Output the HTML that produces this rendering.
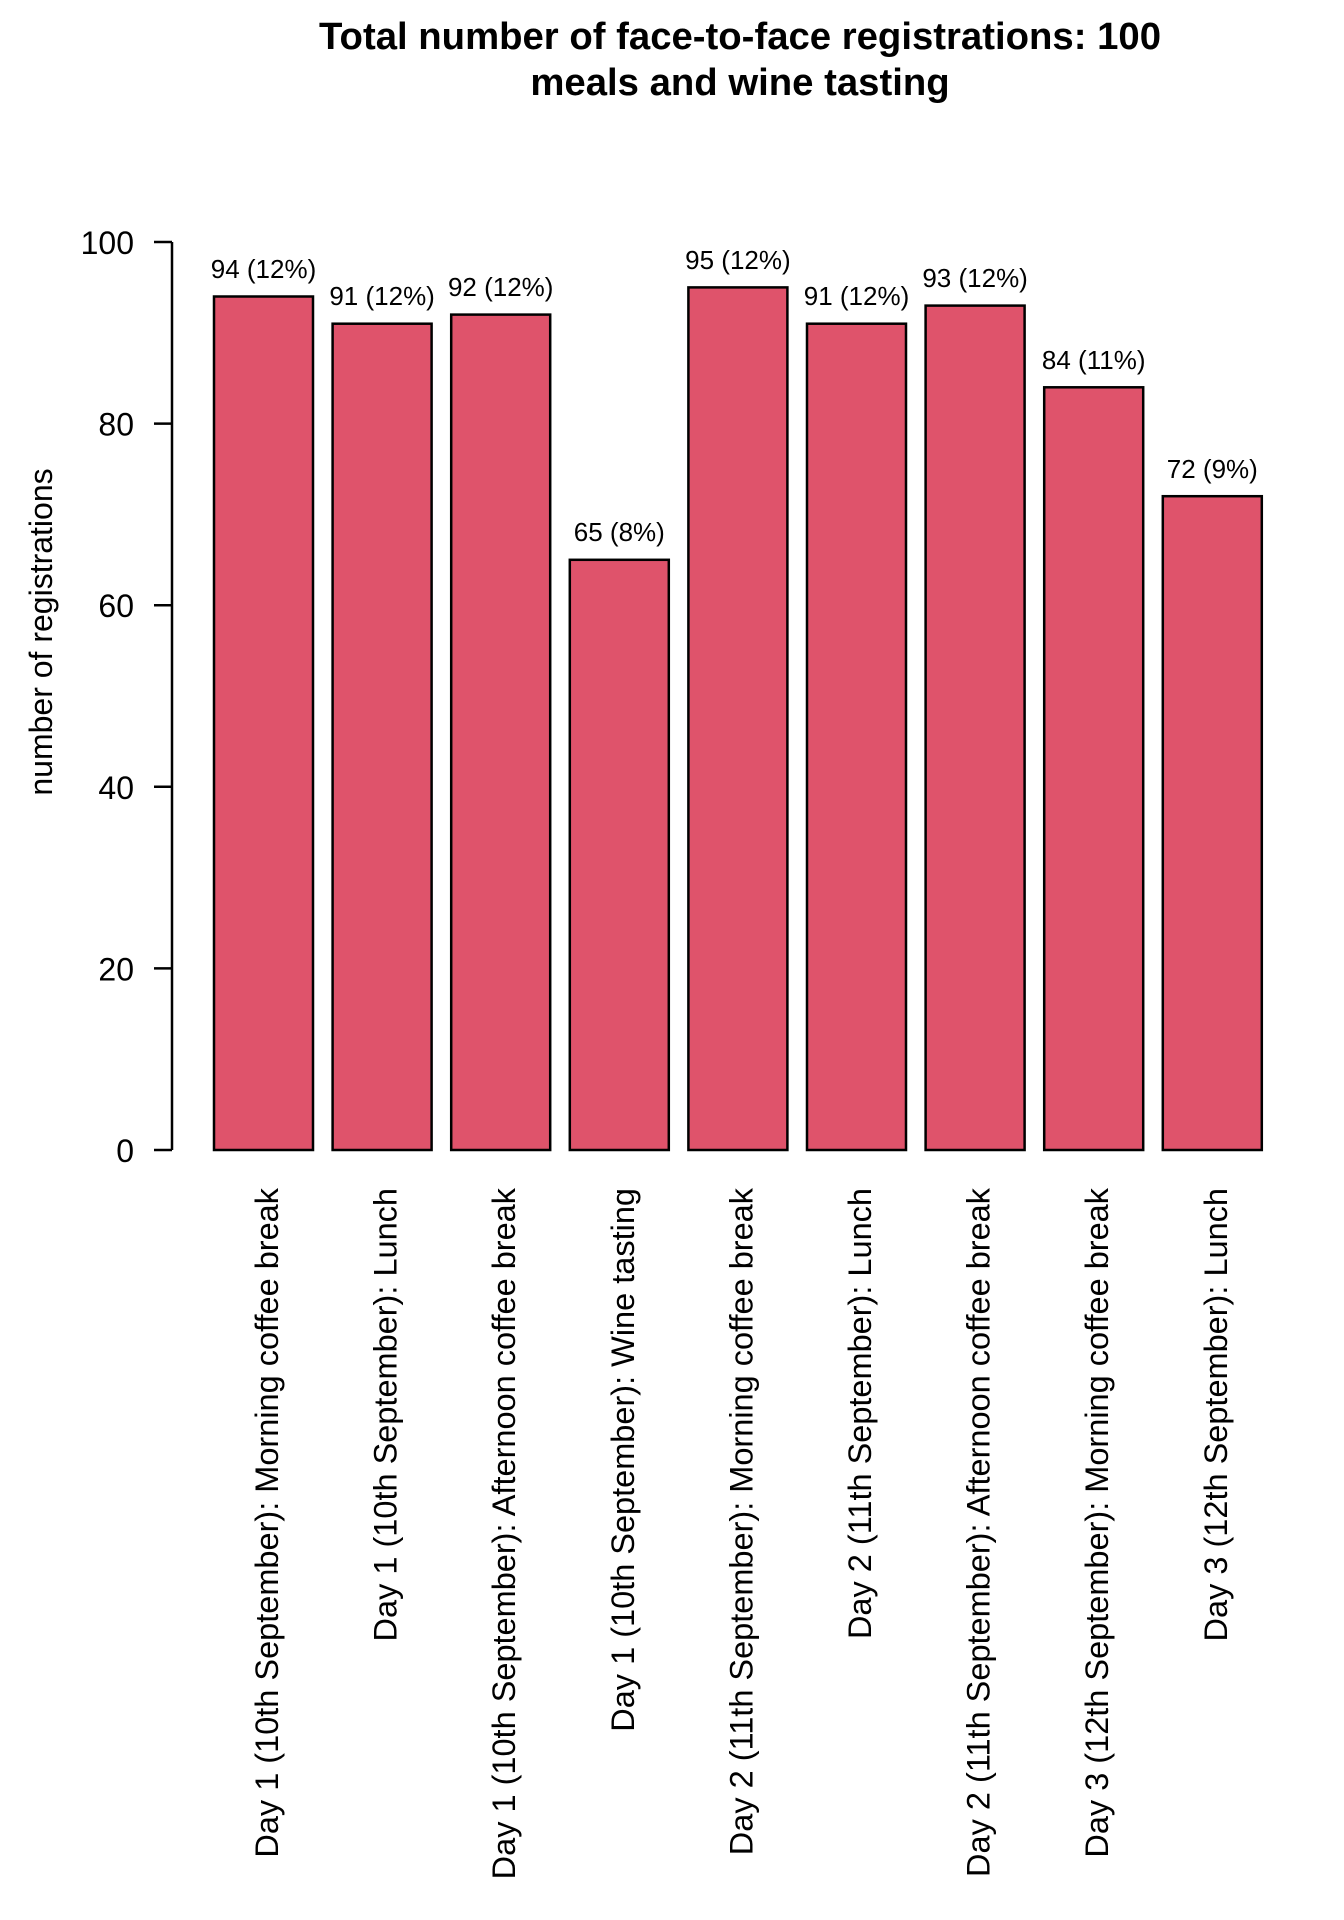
<!DOCTYPE html>
<html><head><meta charset="utf-8"><style>html,body{margin:0;padding:0;background:#fff}svg{display:block}</style></head>
<body>
<svg width="1344" height="1920" xmlns="http://www.w3.org/2000/svg" font-family="Liberation Sans, Arial, sans-serif">
<text x="740" y="49" font-size="38.3" font-weight="bold" text-anchor="middle">Total number of face-to-face registrations: 100</text>
<text x="740" y="95" font-size="38.3" font-weight="bold" text-anchor="middle">meals and wine tasting</text>
<text transform="translate(52,632) rotate(-90)" font-size="32" text-anchor="middle">number of registrations</text>
<g stroke="#000" stroke-width="2.5" fill="none">
<line x1="172" y1="242" x2="172" y2="1150"/>
<line x1="154" y1="242" x2="172" y2="242"/>
<line x1="154" y1="423.6" x2="172" y2="423.6"/>
<line x1="154" y1="605.2" x2="172" y2="605.2"/>
<line x1="154" y1="786.8" x2="172" y2="786.8"/>
<line x1="154" y1="968.4" x2="172" y2="968.4"/>
<line x1="154" y1="1150" x2="172" y2="1150"/>
</g>
<g font-size="32" text-anchor="end">
<text x="134" y="254">100</text>
<text x="134" y="435.6">80</text>
<text x="134" y="617.2">60</text>
<text x="134" y="798.8">40</text>
<text x="134" y="980.4">20</text>
<text x="134" y="1162">0</text>
</g>
<g fill="#DF536B" stroke="#000" stroke-width="2.5">
<rect x="214" y="296.5" width="99" height="853.5"/>
<rect x="332.6" y="323.7" width="99" height="826.3"/>
<rect x="451.2" y="314.6" width="99" height="835.4"/>
<rect x="569.8" y="559.8" width="99" height="590.2"/>
<rect x="688.4" y="287.4" width="99" height="862.6"/>
<rect x="807" y="323.7" width="99" height="826.3"/>
<rect x="925.6" y="305.6" width="99" height="844.4"/>
<rect x="1044.2" y="387.3" width="99" height="762.7"/>
<rect x="1162.8" y="496.2" width="99" height="653.8"/>
</g>
<g font-size="26" text-anchor="middle">
<text x="263.5" y="278">94 (12%)</text>
<text x="382.1" y="305">91 (12%)</text>
<text x="500.7" y="296">92 (12%)</text>
<text x="619.3" y="541">65 (8%)</text>
<text x="737.9" y="269">95 (12%)</text>
<text x="856.5" y="305">91 (12%)</text>
<text x="975.1" y="287">93 (12%)</text>
<text x="1093.7" y="369">84 (11%)</text>
<text x="1212.3" y="478">72 (9%)</text>
</g>
<g font-size="32.5" text-anchor="end">
<text transform="translate(278,1188) rotate(-90)">Day 1 (10th September): Morning coffee break</text>
<text transform="translate(396.6,1188) rotate(-90)">Day 1 (10th September): Lunch</text>
<text transform="translate(515.2,1188) rotate(-90)">Day 1 (10th September): Afternoon coffee break</text>
<text transform="translate(633.8,1188) rotate(-90)">Day 1 (10th September): Wine tasting</text>
<text transform="translate(752.4,1188) rotate(-90)">Day 2 (11th September): Morning coffee break</text>
<text transform="translate(871,1188) rotate(-90)">Day 2 (11th September): Lunch</text>
<text transform="translate(989.6,1188) rotate(-90)">Day 2 (11th September): Afternoon coffee break</text>
<text transform="translate(1108.2,1188) rotate(-90)">Day 3 (12th September): Morning coffee break</text>
<text transform="translate(1226.8,1188) rotate(-90)">Day 3 (12th September): Lunch</text>
</g>
</svg>
</body></html>
